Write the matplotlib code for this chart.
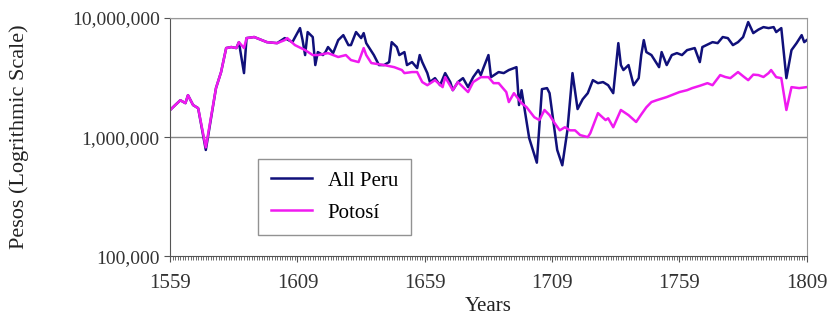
import matplotlib.pyplot as plt
from matplotlib.ticker import FixedLocator, MultipleLocator, NullLocator

# Potosí output (millions of pesos)
potosi_years = [1559, 1561, 1563, 1565, 1566, 1568, 1570, 1573, 1577, 1579, 1581, 1583,
                1585, 1586, 1588, 1589, 1592, 1595, 1597, 1601, 1604, 1605, 1608, 1612,
                1615, 1617, 1621, 1625, 1628, 1630, 1633, 1635, 1636, 1638, 1643, 1647,
                1650, 1651, 1654, 1656, 1658, 1660, 1663, 1666, 1667, 1670, 1672, 1676,
                1678, 1681, 1684, 1686, 1688, 1691, 1692, 1694, 1697, 1699, 1702, 1704,
                1706, 1708, 1710, 1712, 1714, 1716, 1718, 1720, 1723, 1724, 1727, 1730,
                1731, 1733, 1736, 1739, 1742, 1744, 1746, 1748, 1750, 1754, 1757, 1759,
                1762, 1764, 1767, 1770, 1772, 1775, 1777, 1779, 1782, 1784, 1786, 1788,
                1790, 1792, 1794, 1795, 1797, 1799, 1801, 1803, 1806, 1809]
potosi_vals = [1.69, 1.86, 2.04, 1.93, 2.25, 1.86, 1.75, 0.82, 2.58, 3.52, 5.60, 5.71,
               5.60, 6.28, 5.60, 6.79, 6.93, 6.53, 6.28, 6.16, 6.53, 6.79, 5.93, 5.38,
               4.89, 4.89, 5.08, 4.71, 4.89, 4.44, 4.27, 5.60, 4.89, 4.19, 4.03, 3.87,
               3.66, 3.45, 3.52, 3.52, 2.90, 2.73, 3.01, 2.63, 3.19, 2.48, 2.90, 2.39,
               2.90, 3.19, 3.19, 2.84, 2.84, 2.39, 1.97, 2.34, 1.93, 1.78, 1.47, 1.39,
               1.69, 1.53, 1.31, 1.14, 1.21, 1.14, 1.14, 1.04, 1.00, 1.08, 1.59, 1.39,
               1.44, 1.21, 1.69, 1.53, 1.34, 1.55, 1.78, 1.97, 2.04, 2.17, 2.30, 2.39,
               2.48, 2.58, 2.70, 2.84, 2.73, 3.32, 3.20, 3.13, 3.52, 3.25, 3.01, 3.35,
               3.32, 3.20, 3.45, 3.66, 3.19, 3.13, 1.69, 2.63, 2.58, 2.63]

# All Peru output (millions of pesos)
peru_years = [1559, 1561, 1563, 1565, 1566, 1568, 1570, 1573, 1577, 1579, 1581, 1583,
              1585, 1586, 1588, 1589, 1592, 1595, 1597, 1601, 1604, 1607, 1610, 1611,
              1612, 1613, 1615, 1616, 1617, 1619, 1620, 1621, 1623, 1625, 1627, 1629,
              1630, 1632, 1634, 1635, 1636, 1639, 1641, 1643, 1645, 1646, 1648, 1649,
              1651, 1652, 1654, 1656, 1657, 1658, 1660, 1661, 1663, 1665, 1667, 1669,
              1670, 1672, 1674, 1676, 1678, 1680, 1681, 1682, 1684, 1685, 1688, 1690,
              1692, 1695, 1696, 1697, 1700, 1703, 1705, 1707, 1708, 1711, 1713, 1715,
              1717, 1719, 1721, 1723, 1725, 1727, 1729, 1731, 1733, 1735, 1736, 1737,
              1739, 1741, 1743, 1744, 1745, 1746, 1748, 1751, 1752, 1754, 1756, 1758,
              1760, 1762, 1765, 1767, 1768, 1772, 1774, 1776, 1778, 1780, 1782, 1784,
              1786, 1788, 1790, 1792, 1794, 1796, 1797, 1799, 1801, 1803, 1805, 1807,
              1808, 1809]
peru_vals = [1.69, 1.86, 2.04, 1.93, 2.25, 1.86, 1.75, 0.78, 2.58, 3.52, 5.60, 5.71,
             5.60, 6.28, 3.45, 6.79, 6.93, 6.53, 6.28, 6.16, 6.79, 6.28, 8.24, 6.53,
             4.89, 7.63, 6.93, 4.03, 5.18, 4.89, 5.18, 5.71, 5.08, 6.53, 7.19, 5.93,
             5.93, 7.63, 6.79, 7.48, 6.16, 4.89, 4.03, 4.03, 4.27, 6.28, 5.71, 4.89,
             5.18, 4.03, 4.27, 3.80, 4.89, 4.27, 3.45, 2.90, 3.13, 2.73, 3.45, 2.90,
             2.48, 2.90, 3.13, 2.63, 3.19, 3.66, 3.32, 3.80, 4.89, 3.19, 3.52, 3.45,
             3.66, 3.87, 1.86, 2.48, 0.98, 0.61, 2.53, 2.58, 2.34, 0.78, 0.58, 1.14,
             3.45, 1.72, 2.08, 2.34, 3.01, 2.84, 2.90, 2.73, 2.34, 6.16, 4.03, 3.66,
             4.03, 2.73, 3.13, 4.89, 6.53, 5.18, 4.89, 3.87, 5.18, 4.03, 4.89, 5.08,
             4.89, 5.38, 5.60, 4.27, 5.71, 6.28, 6.16, 6.93, 6.79, 5.93, 6.28, 6.93,
             9.26, 7.48, 8.00, 8.40, 8.24, 8.40, 7.63, 8.24, 3.13, 5.38, 6.16, 7.19,
             6.28, 6.53]

year_ticks = [1559, 1609, 1659, 1709, 1759, 1809]
y_ticks = [1e5, 1e6, 1e7]
y_labels = ['100,000', '1,000,000', '10,000,000']

plt.rcParams['font.family'] = ['Liberation Serif', 'DejaVu Serif']

fig = plt.figure(figsize=(8.3, 3.23), dpi=100)
ax = fig.add_axes([0.205, 0.207, 0.767, 0.737])

ax.plot(peru_years, [v * 1e6 for v in peru_vals], color='#10107a', lw=1.8, label='All Peru')
ax.plot(potosi_years, [v * 1e6 for v in potosi_vals], color='#f01af0', lw=1.8, label='Potosí')

ax.set_yscale('log')
ax.set_ylim(1e5, 1e7)
ax.set_xlim(1559, 1809)
ax.yaxis.set_major_locator(FixedLocator(y_ticks))
ax.yaxis.set_minor_locator(NullLocator())
ax.set_yticklabels(y_labels, color='#333333', fontsize=14)
ax.set_xticks(year_ticks)
ax.set_xticklabels([str(y) for y in year_ticks], color='#333333', fontsize=15)
ax.xaxis.set_minor_locator(MultipleLocator(1))
ax.tick_params(axis='x', which='minor', length=3, width=0.6, color='#555555')
ax.tick_params(axis='x', which='major', length=4, width=0.8, color='#555555', pad=9)
ax.tick_params(axis='y', length=4, width=0.8, color='#555555')

for yv in [1e6, 1e7]:
    ax.axhline(yv, color='#888888', lw=1.0, zorder=0)

ax.spines['top'].set_color('#999999')
ax.spines['right'].set_color('#999999')
ax.spines['left'].set_color('#555555')
ax.spines['bottom'].set_color('#555555')

ax.set_ylabel('Pesos (Logrithmic Scale)', fontsize=16, color='#222222')
ax.yaxis.set_label_coords(-0.222, 0.5)
ax.set_xlabel('Years', fontsize=15, color='#222222', labelpad=3)

leg = ax.legend(loc='lower left', bbox_to_anchor=(0.138, 0.088), fontsize=15,
                frameon=True, fancybox=False, handlelength=2.0, borderpad=0.6,
                labelspacing=0.6, borderaxespad=0, handletextpad=0.75)
leg.get_frame().set_edgecolor('#777777')
leg.get_frame().set_linewidth(1.0)

fig.savefig('out.png', dpi=100)
